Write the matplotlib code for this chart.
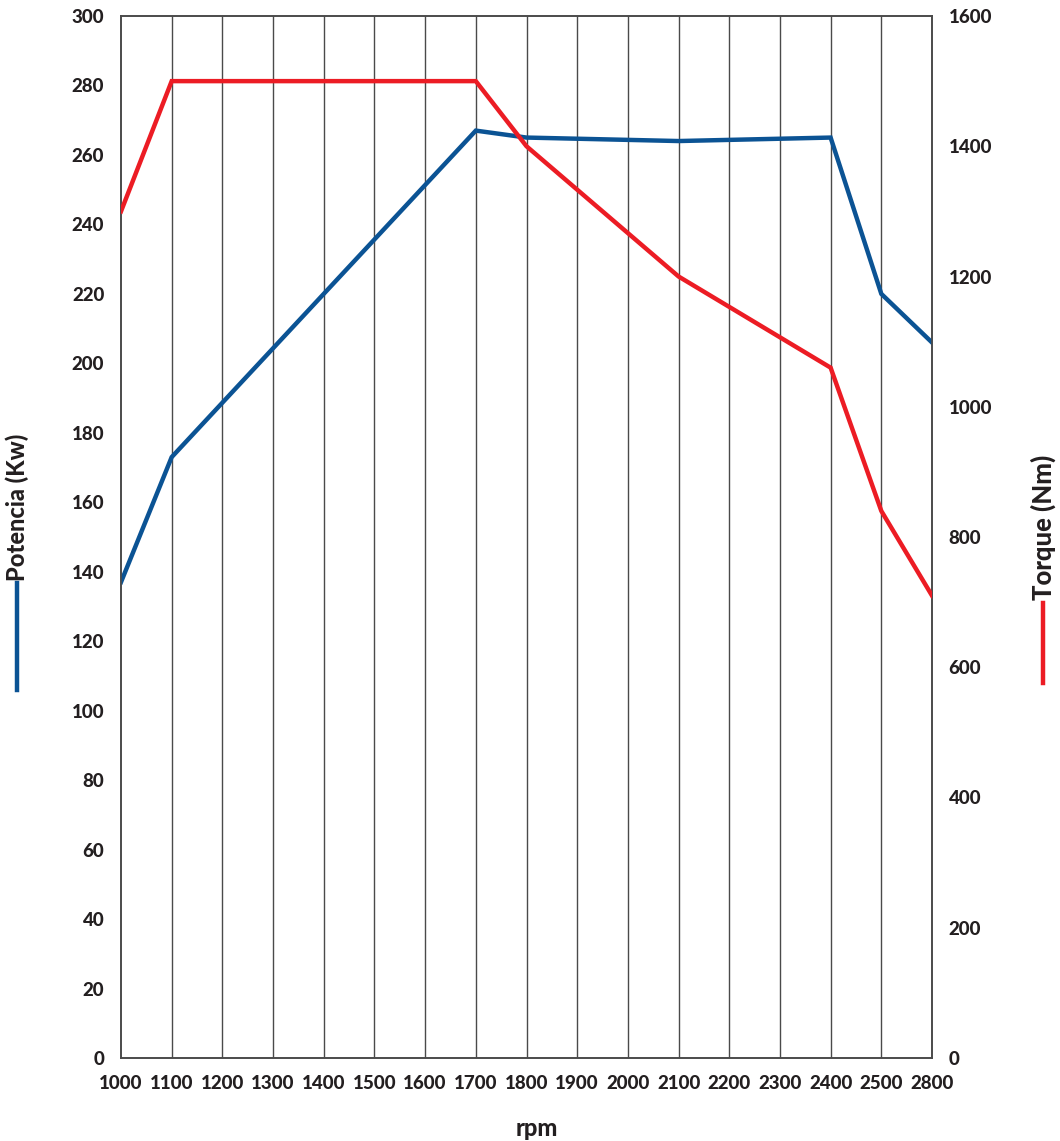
import matplotlib.pyplot as plt
from matplotlib.lines import Line2D

rpm_labels = [1000, 1100, 1200, 1300, 1400, 1500, 1600, 1700, 1800,
              1900, 2000, 2100, 2200, 2300, 2400, 2500, 2800]

power_rpm = [1000, 1100, 1700, 1800, 2100, 2400, 2500, 2800]
power_kw = [137, 173, 267, 265, 264, 265, 220, 206]

torque_rpm = [1000, 1100, 1700, 1800, 2100, 2400, 2500, 2800]
torque_nm = [1300, 1500, 1500, 1400, 1200, 1060, 840, 710]

power_ticks = list(range(0, 301, 20))
torque_ticks = list(range(0, 1601, 200))

BLUE = '#0b5394'
RED = '#ec1c24'
GRID = '#4a4a4a'
TXT = '#231f20'

plt.rcParams['font.family'] = ['Lato', 'DejaVu Sans']

fig = plt.figure(figsize=(10.6, 11.41), dpi=100)
ax1 = fig.add_axes([121 / 1060, 1 - 1058 / 1141, (932 - 121) / 1060, (1058 - 16) / 1141])
ax2 = ax1.twinx()

# categorical x positions
px = [rpm_labels.index(r) for r in power_rpm]
tx = [rpm_labels.index(r) for r in torque_rpm]

for i in range(1, len(rpm_labels) - 1):
    ax1.axvline(i, color=GRID, lw=1.0, zorder=1)

ax1.plot(px, power_kw, color=BLUE, lw=3.2, zorder=3, solid_joinstyle='miter')
ax2.plot(tx, torque_nm, color=RED, lw=3.2, zorder=3, solid_joinstyle='miter')

ax1.set_xlim(0, len(rpm_labels) - 1)
ax1.set_ylim(0, 300)
ax2.set_ylim(0, 1600)

ax1.set_xticks(range(len(rpm_labels)))
ax1.set_xticklabels([str(r) for r in rpm_labels])
ax1.set_yticks(power_ticks)
ax2.set_yticks(torque_ticks)

for ax in (ax1, ax2):
    for s in ax.spines.values():
        s.set_color(GRID)
        s.set_linewidth(1.2)
    ax.tick_params(length=0, labelsize=13.5, labelcolor=TXT)
    for lab in ax.get_xticklabels() + ax.get_yticklabels():
        lab.set_fontweight('black')

ax1.tick_params(axis='y', pad=12)
ax1.tick_params(axis='x', pad=12)
ax2.tick_params(axis='y', pad=12)

# axis titles with coloured key lines
fig.text(17 / 1060, 1 - 581 / 1141, 'Potencia (Kw)', rotation=90, ha='center', va='bottom',
         fontsize=17, fontweight='black', color=TXT)
fig.add_artist(Line2D([17 / 1060, 17 / 1060], [1 - 583 / 1141, 1 - 690 / 1141],
                      color=BLUE, lw=3.2, transform=fig.transFigure))

fig.text(1043 / 1060, 1 - 600 / 1141, 'Torque (Nm)', rotation=90, ha='center', va='bottom',
         fontsize=18.5, fontweight='black', color=TXT)
fig.add_artist(Line2D([1043 / 1060, 1043 / 1060], [1 - 603 / 1141, 1 - 683 / 1141],
                      color=RED, lw=3.2, transform=fig.transFigure))

fig.text(537 / 1060, 1 - 1128 / 1141, 'rpm', ha='center', va='center',
         fontsize=17, fontweight='black', color=TXT)

fig.savefig('out.png', dpi=100)
